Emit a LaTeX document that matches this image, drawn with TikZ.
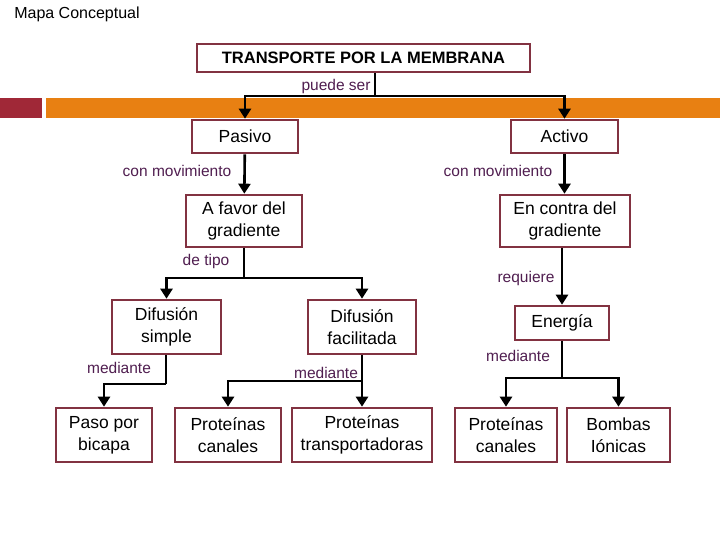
\documentclass[tikz,border=0pt]{standalone}
\usepackage{fontspec}
\setmainfont{Liberation Sans}
\usetikzlibrary{arrows.meta}
\definecolor{boxc}{RGB}{130,50,65}
\definecolor{orng}{RGB}{232,128,18}
\definecolor{redb}{RGB}{160,40,55}
\definecolor{lbl}{RGB}{80,30,80}
\tikzset{
 bx/.style={draw=boxc,line width=2.6pt,fill=white,inner sep=0pt,align=center,font=\fontsize{17.5}{22}\selectfont},
 lab/.style={text=lbl,font=\fontsize{15.5}{17}\selectfont,inner sep=1pt},
 ar/.style={line width=2.6pt,-{Triangle[length=10pt,width=12pt]}},
 ln/.style={line width=2.6pt}
}
\begin{document}
\begin{tikzpicture}[x=1pt,y=-1pt]
\useasboundingbox (0,0) rectangle (720,540);
\fill[white] (0,0) rectangle (720,540);
\fill[redb] (0,98) rectangle (42,118);
\fill[orng] (46,98) rectangle (720,118);
\node[font=\fontsize{16}{18}\selectfont] (mc) at (77,14) {Mapa Conceptual};
\node[bx,minimum width=333pt,minimum height=28pt,font=\bfseries\fontsize{16.5}{18}\selectfont] (t) at (363.5,58) {TRANSPORTE POR LA MEMBRANA};
\node[bx,minimum width=106pt,minimum height=33pt] (pas) at (245,136.5) {Pasivo};
\node[bx,minimum width=107pt,minimum height=33pt] (act) at (564.5,136.5) {Activo};
\node[bx,minimum width=116pt,minimum height=52pt] (fav) at (244,221) {A favor del\\gradiente};
\node[bx,minimum width=130pt,minimum height=52pt] (con) at (565,221) {En contra del\\gradiente};
\node[bx,minimum width=109pt,minimum height=54pt] (ds) at (166.5,327) {Difusión\\simple};
\node[bx,minimum width=108pt,minimum height=54pt] (df) at (362,327) {Difusión\\facilitada};
\node[bx,minimum width=94pt,minimum height=34pt] (en) at (562,323) {Energía};
\node[bx,minimum width=96pt,minimum height=54pt] (pb) at (104,435) {Paso por\\bicapa};
\node[bx,minimum width=106pt,minimum height=54pt] (pc1) at (228,435) {Proteínas\\canales};
\node[bx,minimum width=140pt,minimum height=54pt] (pt) at (362,435) {Proteínas\\transportadoras};
\node[bx,minimum width=102pt,minimum height=54pt] (pc2) at (506,435) {Proteínas\\canales};
\node[bx,minimum width=103pt,minimum height=54pt] (bi) at (618.5,435) {Bombas\\Iónicas};
% connectors
\coordinate (j1) at (375,96);
\draw[ln] (t.south -| j1) -- (j1);
\draw[ar] (j1) -| (pas.north);
\draw[ar] (j1) -| (act.north);
\draw[ar] (pas) -- (fav);
\draw[ar] (act.south) -- (con.north -| act.south);
\coordinate (j2) at (244,278);
\draw[ln] (fav.south) -- (j2);
\draw[ar] (j2) -| (ds.north);
\draw[ar] (j2) -| (df.north);
\draw[ar] (con.south -| en.north) -- (en.north);
\coordinate (j3) at (166,384);
\draw[ln] (ds.south -| j3) -- (j3);
\draw[ar] (j3) -| (pb.north);
\draw[ar] (df.south) -- (pt.north);
\coordinate (j4) at (362,381);
\draw[ar] (j4) -| (pc1.north);
\coordinate (j5) at (562,378);
\draw[ln] (en.south) -- (j5);
\draw[ar] (j5) -| (pc2.north);
\draw[ar] (j5) -| (bi.north);
% labels
\node[lab] (l1) at (336,86) {puede ser};
\node[lab] (l2) at (177,171) {con movimiento};
\node[lab] (l3) at (498,171) {con movimiento};
\node[lab] (l4) at (206,261) {de tipo};
\node[lab] (l5) at (526,278) {requiere};
\node[lab] (l6) at (119,368) {mediante};
\node[lab] (l7) at (326,373) {mediante};
\node[lab] (l8) at (518,356) {mediante};
\end{tikzpicture}
\end{document}
